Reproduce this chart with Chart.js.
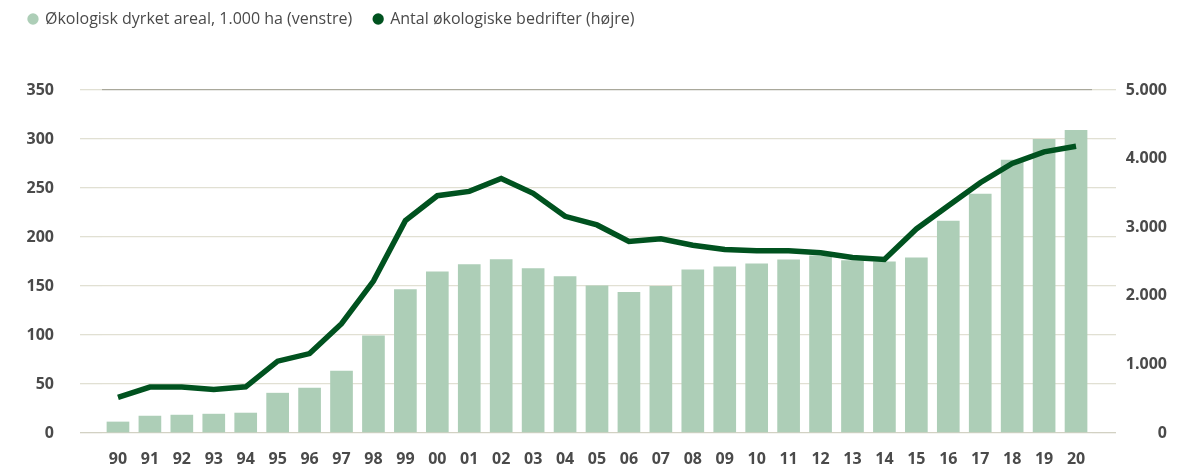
<!DOCTYPE html>
<html lang="da">
<head>
<meta charset="utf-8">
<title>Økologisk areal og bedrifter</title>
<script src="https://cdn.jsdelivr.net/npm/chart.js@4.4.1/dist/chart.umd.min.js"></script>
<style>
  html, body { margin: 0; padding: 0; background: #fff; }
  canvas { display: block; }
</style>
</head>
<body>
<canvas id="chart" width="1200" height="474"></canvas>
<script>
// years 1990-2020, shown as two digits
const years = ['90','91','92','93','94','95','96','97','98','99','00','01','02','03','04','05',
  '06','07','08','09','10','11','12','13','14','15','16','17','18','19','20'];

// organic area, 1.000 ha (left axis)
const areal = [11.6, 17.6, 18.6, 19.6, 20.7, 41.0, 46.1, 63.4, 99.4, 146.8, 164.8, 172.2, 177.3, 168.2,
  160.0, 150.6, 143.8, 149.9, 166.8, 169.9, 172.9, 177.0, 181.1, 176.3, 175.0, 179.2, 216.7, 244.2,
  278.8, 300.1, 309.3];

// number of organic farms (right axis)
const bedrifter = [519, 669, 669, 635, 673, 1047, 1158, 1594, 2214, 3096, 3459, 3522, 3711, 3493,
  3159, 3033, 2791, 2830, 2737, 2674, 2655, 2655, 2626, 2558, 2529, 2975, 3314, 3648, 3929, 4099, 4181];

const leftTicks = [0, 50, 100, 150, 200, 250, 300, 350];
const rightTicks = [0, 1000, 2000, 3000, 4000, 5000];

const LIGHT = '#adceb7';
const DARK = '#00521f';
const GRID = '#e1e0d3';
const TEXT = '#4a4a4a';
const FONT = "'Open Sans', sans-serif";

const thousands = v => String(v).replace(/\B(?=(\d{3})+(?!\d))/g, '.');

// extra room between legend and plot
const legendGap = {
  id: 'legendGap',
  beforeInit(chart) {
    const fit = chart.legend.fit;
    chart.legend.fit = function () {
      fit.bind(chart.legend)();
      this.height += 53;
    };
  }
};

new Chart(document.getElementById('chart'), {
  type: 'bar',
  data: {
    labels: years,
    datasets: [
      {
        label: 'Økologisk dyrket areal, 1.000 ha (venstre)',
        data: areal,
        backgroundColor: LIGHT,
        yAxisID: 'y',
        order: 1,
        barPercentage: 0.71,
        categoryPercentage: 1
      },
      {
        type: 'line',
        label: 'Antal økologiske bedrifter (højre)',
        data: bedrifter,
        borderColor: DARK,
        backgroundColor: DARK,
        borderWidth: 5.5,
        pointRadius: 0,
        tension: 0,
        yAxisID: 'y1',
        order: 0
      }
    ]
  },
  options: {
    responsive: false,
    devicePixelRatio: 1,
    animation: false,
    layout: { padding: { left: 7, right: 33, top: -11, bottom: 5 } },
    plugins: {
      tooltip: { enabled: false },
      legend: {
        position: 'top',
        align: 'start',
        labels: {
          usePointStyle: true,
          pointStyle: 'circle',
          boxWidth: 8,
          boxHeight: 8,
          padding: 22,
          color: TEXT,
          font: { family: FONT, size: 16 },
          sort: (a, b) => a.datasetIndex - b.datasetIndex,
          generateLabels(chart) {
            return Chart.defaults.plugins.legend.labels.generateLabels(chart).map(item => {
              item.lineWidth = 0;
              item.strokeStyle = 'rgba(0,0,0,0)';
              return item;
            });
          }
        }
      }
    },
    scales: {
      x: {
        offset: true,
        afterFit: s => { s.height = 36; },
        grid: { display: false, drawTicks: false },
        border: { display: false },
        ticks: { color: TEXT, padding: 17, font: { family: FONT, size: 16, weight: 'bold' } }
      },
      y: {
        position: 'left',
        min: 0,
        max: 350,
        afterBuildTicks: s => { s.ticks = leftTicks.map(v => ({ value: v })); },
        afterFit: s => { s.width = 95; },
        border: { display: false },
        grid: {
          color: c => c.tick.value === 350 ? '#a9a89b' : (c.tick.value === 0 ? '#d2d1c3' : GRID),
          tickColor: c => c.tick.value === 0 ? '#d2d1c3' : GRID,
          lineWidth: 1.3,
          tickLength: 22
        },
        ticks: { color: TEXT, padding: 26, font: { family: FONT, size: 16, weight: 'bold' } }
      },
      // carries the grid lines past the plot on the right side
      yExt: {
        position: 'right',
        weight: 0,
        min: 0,
        max: 350,
        afterBuildTicks: s => { s.ticks = leftTicks.map(v => ({ value: v })); },
        border: { display: false },
        grid: {
          drawOnChartArea: false,
          tickColor: c => c.tick.value === 0 ? '#d2d1c3' : GRID,
          lineWidth: 1.3,
          tickLength: 24
        },
        ticks: { display: false }
      },
      y1: {
        position: 'right',
        weight: 1,
        min: 0,
        max: 5000,
        afterBuildTicks: s => { s.ticks = rightTicks.map(v => ({ value: v })); },
        afterFit: s => { s.width = 51; },
        border: { display: false },
        grid: { display: false, drawTicks: false },
        ticks: {
          color: TEXT,
          padding: 10,
          crossAlign: 'far',
          font: { family: FONT, size: 16, weight: 'bold' },
          callback: v => thousands(v)
        }
      }
    }
  },
  plugins: [legendGap]
});
</script>
</body>
</html>
